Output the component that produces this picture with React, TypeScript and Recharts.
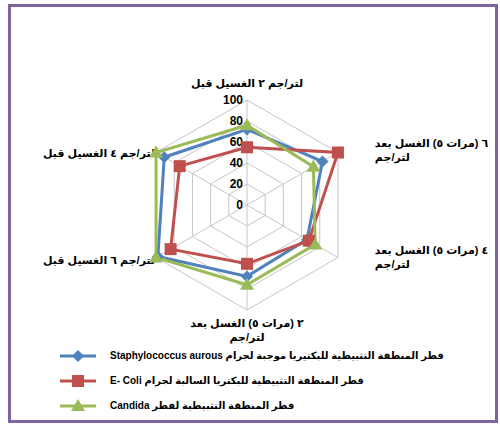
import { RadarChart, Radar, PolarGrid, PolarAngleAxis, PolarRadiusAxis } from "recharts"

// axis categories, clockwise from the top ("\n" = line break in the label)
const categories = [
  "قبل الغسيل ٢ جم/لتر",
  "بعد الغسل (٥ مرات) ٦\nجم/لتر",
  "بعد الغسل (٥ مرات) ٤\nجم/لتر",
  "بعد الغسل (٥ مرات) ٢\nجم/لتر",
  "قبل الغسيل ٦ جم/لتر",
  "قبل الغسيل ٤ جم/لتر",
]

const staphValues = [72, 83, 66, 68, 98, 91]
const ecoliValues = [55, 100, 68, 56, 84, 74]
const candidaValues = [76, 73, 75, 76, 100, 100]

const radiusTicks = [0, 20, 40, 60, 80, 100]

const seriesNames = [
  "قطر المنطقة التثبيطية للبكتيريا موجبة لجرام Staphylococcus aurous",
  "قطر المنطقة التثبيطية للبكتريا السالبة لجرام E- Coli",
  "قطر المنطقة التثبيطية لفطر Candida",
]

const BLUE = "#4f81bd"
const RED = "#c0504d"
const GREEN = "#9bbb59"
const FONT = '"Liberation Sans", "DejaVu Sans", sans-serif'
const CX = 247
const CY = 205

const data = categories.map((name, i) => ({
  name,
  staph: staphValues[i],
  ecoli: ecoliValues[i],
  candida: candidaValues[i],
}))

// the axis labels in the original show their words left to right:
// left-to-right marks between the words keep that order
const LRM = "\u200E"
const ltrWords = (s: string) =>
  LRM + s.replace(/ /g, LRM + " " + LRM).replace(/\//g, LRM + "/" + LRM) + LRM

function Marker({ shape, cx, cy, color }: { shape: string; cx: number; cy: number; color: string }) {
  if (shape === "diamond") {
    return <polygon points={`${cx},${cy - 6} ${cx + 6},${cy} ${cx},${cy + 6} ${cx - 6},${cy}`} fill={color} />
  }
  if (shape === "square") {
    return <rect x={cx - 6} y={cy - 6} width={12} height={12} fill={color} />
  }
  return <polygon points={`${cx},${cy - 7} ${cx + 7},${cy + 5} ${cx - 7},${cy + 5}`} fill={color} />
}

const makeDot = (shape: string, color: string) => (props: any) =>
  <Marker key={`${shape}-${props.index}`} shape={shape} cx={props.cx} cy={props.cy} color={color} />

function AngleTick(props: any) {
  const { x, y, textAnchor, payload } = props
  const lines = String(payload.value).split("\n")
  let dx = 0
  let dy = 0
  if (textAnchor === "start") {
    dx = 30
    dy = y < CY ? -1.5 : -7.5
  } else if (textAnchor === "end") {
    dx = 6
    dy = y < CY ? 8.5 : 2.5
  } else {
    dy = y < CY ? -5 : 9
  }
  return (
    <text
      x={x + dx}
      y={y + dy}
      textAnchor={textAnchor}
      direction="ltr"
      style={{ direction: "ltr", unicodeBidi: "embed" }}
      fontFamily={FONT}
      fontSize={11}
      fontWeight="bold"
      fill="#000"
    >
      {lines.map((l, i) => (
        <tspan key={i} x={x + dx} dy={i === 0 ? 0 : 14}>
          {ltrWords(l)}
        </tspan>
      ))}
    </text>
  )
}

function RadiusTick(props: any) {
  const { x, y, payload } = props
  return (
    <text x={x - 4} y={y} textAnchor="end" dominantBaseline="central" fontFamily={FONT} fontSize={12} fontWeight="bold" fill="#000">
      {payload.value}
    </text>
  )
}

const legendItems = [
  { name: seriesNames[0], color: BLUE, shape: "diamond" },
  { name: seriesNames[1], color: RED, shape: "square" },
  { name: seriesNames[2], color: GREEN, shape: "triangle" },
]

export default function App() {
  return (
    <div style={{ position: "absolute", left: 0, top: 0, width: 500, height: 425, background: "#fff", overflow: "hidden" }}>
      <div
        style={{
          position: "absolute",
          left: 8,
          top: 4,
          width: 490,
          height: 419,
          boxSizing: "border-box",
          border: "3px solid #8064a2",
        }}
      />
      <div style={{ position: "absolute", left: 0, top: 0 }}>
        <RadarChart width={500} height={425} data={data} cx={CX} cy={CY} outerRadius={105} margin={{ top: 0, right: 0, bottom: 0, left: 0 }}>
          <PolarGrid gridType="polygon" stroke="#c6c6c6" />
          <PolarAngleAxis dataKey="name" tick={AngleTick} tickLine={false} axisLine={false} />
          <PolarRadiusAxis angle={90} domain={[0, 100]} ticks={radiusTicks as any} tickCount={6} tick={RadiusTick} axisLine={false} tickLine={false} />
          <Radar name={seriesNames[0]} dataKey="staph" stroke={BLUE} strokeWidth={3} fill="none" fillOpacity={0} dot={makeDot("diamond", BLUE)} isAnimationActive={false} />
          <Radar name={seriesNames[1]} dataKey="ecoli" stroke={RED} strokeWidth={3} fill="none" fillOpacity={0} dot={makeDot("square", RED)} isAnimationActive={false} />
          <Radar name={seriesNames[2]} dataKey="candida" stroke={GREEN} strokeWidth={3} fill="none" fillOpacity={0} dot={makeDot("triangle", GREEN)} isAnimationActive={false} />
        </RadarChart>
      </div>
      <div style={{ position: "absolute", left: 60, top: 343, fontFamily: FONT, fontSize: 10, fontWeight: "bold" }}>
        {legendItems.map((item) => (
          <div key={item.name} style={{ display: "flex", alignItems: "center", height: 25 }}>
            <svg width={36} height={14} style={{ flex: "none" }}>
              <line x1={0} y1={7} x2={36} y2={7} stroke={item.color} strokeWidth={3} />
              <Marker shape={item.shape} cx={18} cy={7} color={item.color} />
            </svg>
            <span dir="rtl" style={{ marginLeft: 14, whiteSpace: "nowrap" }}>
              {item.name}
            </span>
          </div>
        ))}
      </div>
    </div>
  )
}
